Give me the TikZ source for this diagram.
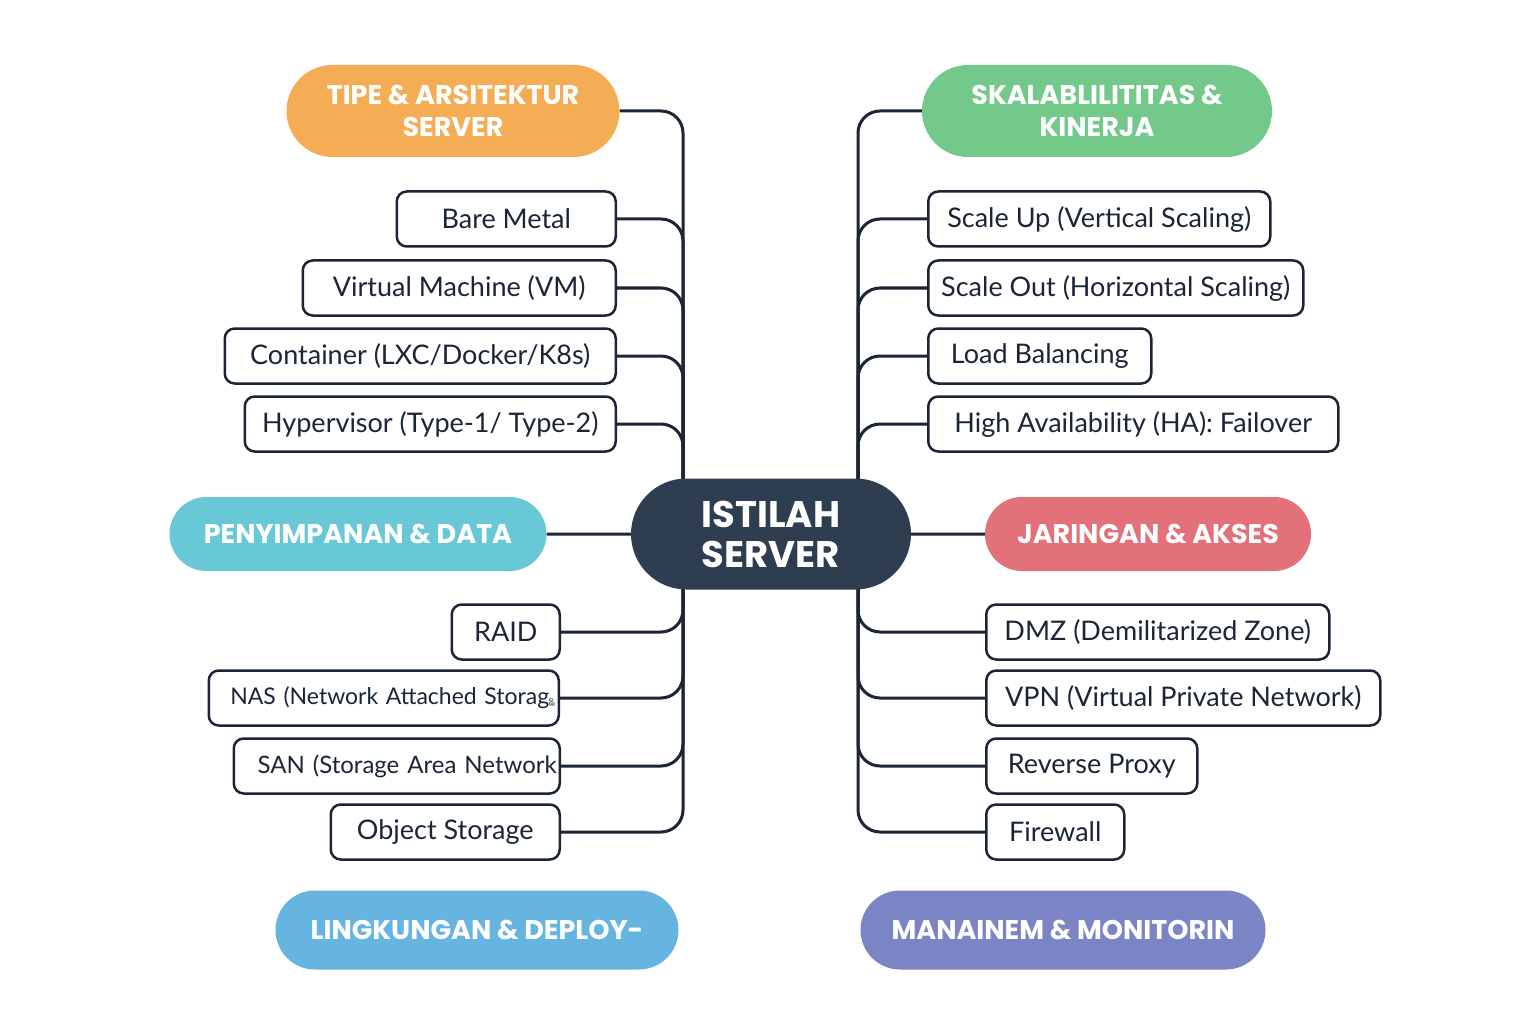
\documentclass[tikz,border=0pt]{standalone}
\usepackage{fontspec}
\setmainfont{Lato}
\newfontfamily\headfont{Poppins}
\usetikzlibrary{positioning,shapes.misc,backgrounds}

\definecolor{navy}{HTML}{1B2536}
\definecolor{hubcol}{HTML}{2E3E50}
\definecolor{orangecol}{HTML}{F5AD55}
\definecolor{greencol}{HTML}{72C98A}
\definecolor{tealcol}{HTML}{68C8D6}
\definecolor{redcol}{HTML}{E2717A}
\definecolor{bluecol}{HTML}{66B5E1}
\definecolor{purplecol}{HTML}{7B85C6}

\tikzset{
  head/.style={rounded rectangle, fill=#1, text=white, align=center, inner sep=0pt,
    font=\headfont\bfseries\fontsize{27}{32}\selectfont},
  term/.style={draw=navy, line width=2.5pt, rounded corners=10pt, inner sep=0pt,
    minimum height=55pt, text=navy, font=\fontsize{27}{30}\selectfont},
  branch/.style={draw=navy, line width=3pt, rounded corners=22pt},
}

\begin{document}
\begin{tikzpicture}[x=1pt,y=-1pt]
  \useasboundingbox (0,0) rectangle (1536,1024);
  % hub and category pills
  \node[head=hubcol, minimum width=280pt, minimum height=111pt,
    font=\headfont\bfseries\fontsize{37}{40}\selectfont] (hub) at (771,534) {ISTILAH\\SERVER};
  \node[head=orangecol, minimum width=333pt, minimum height=92pt] (tipe) at (453,111) {TIPE \& ARSITEKTUR\\SERVER};
  \node[head=greencol, minimum width=350pt, minimum height=92pt] (skala) at (1097,111) {SKALABLILITITAS \&\\KINERJA};
  \node[head=tealcol, minimum width=377pt, minimum height=74pt] (simpan) at (358,534) {PENYIMPANAN \& DATA};
  \node[head=redcol, minimum width=326pt, minimum height=74pt] (jaring) at (1148,534) {JARINGAN \& AKSES};
  \node[head=bluecol, minimum width=403pt, minimum height=79pt] (lingk) at (477,930) {LINGKUNGAN \& DEPLOY-};
  \node[head=purplecol, minimum width=405pt, minimum height=79pt] (manaj) at (1063,930) {MANAINEM \& MONITORIN};

  % left upper terms
  \node[term, anchor=east, minimum width=219pt] (bare) at (617,219) {Bare Metal};
  \node[term, anchor=east, minimum width=313pt] (vm) at (617,288) {Virtual Machine (VM)};
  \node[term, anchor=east, minimum width=391pt] (cont) at (617,356) {Container (LXC/Docker/K8s)};
  \node[term, anchor=east, minimum width=371pt] (hyper) at (617,424) {Hypervisor (Type-1/ Type-2)};
  % left lower terms
  \node[term, anchor=east, minimum width=108pt] (raid) at (561,632) {RAID};
  \node[term, anchor=east, minimum width=350pt, text width=342pt, align=right,
    font=\fontsize{23}{26}\selectfont] (nas) at (560,698)
    {NAS (Network Attached Storag\raisebox{-2pt}{\rotatebox{90}{\fontsize{8}{8}\selectfont ge}}};
  \node[term, anchor=east, minimum width=326pt, text width=320pt, align=right,
    font=\fontsize{24}{26}\selectfont] (san) at (561,766) {SAN (Storage Area Network};
  \node[term, anchor=east, minimum width=229pt] (obj) at (561,832) {Object Storage};
  % right upper terms
  \node[term, anchor=west, minimum width=342pt] (sup) at (927,219) {Scale Up (Vertical Scaling)};
  \node[term, anchor=west, minimum width=375pt] (sout) at (927,288) {Scale Out (Horizontal Scaling)};
  \node[term, anchor=west, minimum width=223pt] (lb) at (927,356) {Load Balancing};
  \node[term, anchor=west, minimum width=410pt] (ha) at (927,424) {High Availability (HA): Failover};
  % right lower terms
  \node[term, anchor=west, minimum width=343pt] (dmz) at (985,632) {DMZ (Demilitarized Zone)};
  \node[term, anchor=west, minimum width=394pt] (vpn) at (985,698) {VPN (Virtual Private Network)};
  \node[term, anchor=west, minimum width=211pt] (rp) at (985,766) {Reverse Proxy};
  \node[term, anchor=west, minimum width=138pt] (fw) at (985,832) {Firewall};

  \coordinate (ltop) at (683,505);
  \coordinate (lbot) at (683,565);
  \coordinate (rtop) at (858,505);
  \coordinate (rbot) at (858,565);

  \begin{scope}[on background layer]
    \fill[white] (0,0) rectangle (1536,1024);
    \draw[branch] (simpan) -- (hub);
    \draw[branch] (hub) -- (jaring);
    \foreach \n in {tipe,bare,vm,cont,hyper} \draw[branch] (\n.east) -| (ltop);
    \foreach \n in {raid,nas,san,obj} \draw[branch] (\n.east) -| (lbot);
    \foreach \n in {skala,sup,sout,lb,ha} \draw[branch] (\n.west) -| (rtop);
    \foreach \n in {dmz,vpn,rp,fw} \draw[branch] (\n.west) -| (rbot);
  \end{scope}
\end{tikzpicture}
\end{document}
